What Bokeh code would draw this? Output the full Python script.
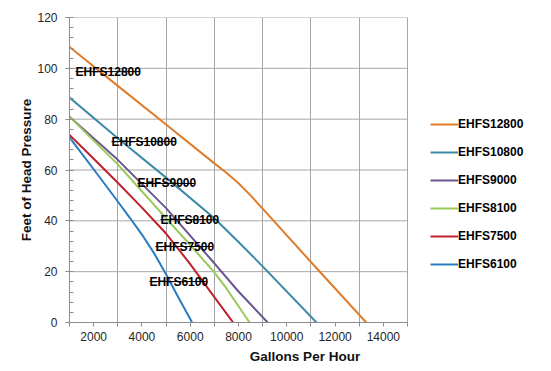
from bokeh.plotting import figure
from bokeh.models import (FixedTicker, Legend, LegendItem, LabelSet,
                          Range1d, ColumnDataSource)
from bokeh.core.properties import value
from bokeh.embed import file_html
from bokeh.resources import INLINE

# ---- data -------------------------------------------------------------
models = ["EHFS12800", "EHFS10800", "EHFS9000", "EHFS8100", "EHFS7500", "EHFS6100"]
colors = ["#E07B28", "#3A8AA6", "#6A5690", "#98C95A", "#C0202A", "#2A7BC0"]

gph_12800 = [1000, 3000, 5000, 7000, 7500, 8000, 8500, 9000, 11000, 13290]
head_12800 = [108.4, 93.1, 77.9, 62.6, 58.9, 54.8, 50.0, 44.8, 23.8, 0]

gph_10800 = [1000, 3000, 5000, 7000, 8000, 9000, 11230]
head_10800 = [88.5, 72.5, 57.0, 41.0, 31.7, 22.1, 0]

gph_9000 = [1000, 3000, 5000, 7000, 8000, 9210]
head_9000 = [81.0, 64.0, 45.0, 23.3, 12.2, 0]

gph_8100 = [1000, 3000, 5000, 6000, 7000, 7500, 8460]
head_8100 = [81.0, 62.2, 41.0, 30.5, 19.7, 13.4, 0]

gph_7500 = [1000, 2000, 3000, 4000, 5000, 6000, 7000, 7780]
head_7500 = [73.8, 64.4, 55.0, 45.2, 35.0, 23.0, 10.0, 0]

gph_6100 = [1000, 2000, 3000, 3500, 4000, 4500, 5000, 5500, 6080]
head_6100 = [72.8, 60.3, 47.6, 41.2, 34.6, 27.3, 19.0, 10.0, 0]

series_x = [gph_12800, gph_10800, gph_9000, gph_8100, gph_7500, gph_6100]
series_y = [head_12800, head_10800, head_9000, head_8100, head_7500, head_6100]

# in-plot label anchors (data units)
label_x = [1250, 2740, 3815, 4770, 4560, 4310]
label_y = [98.7, 71.2, 54.7, 40.5, 29.9, 16.1]

x_min, x_max = 1000, 15000
y_min, y_max = 0, 120
x_tick_labels = [2000, 4000, 6000, 8000, 10000, 12000, 14000]
x_grid_at = [1000, 3000, 5000, 7000, 9000, 11000, 13000, 15000]
y_ticks = [0, 20, 40, 60, 80, 100, 120]

# ---- layout: plot area is 338px wide; frame extends right to hold the legend
W, H = 545, 367
left_b, right_b, top_b, bottom_b = 69, 5, 17, 45
plot_w = 338
frame_w = W - left_b - right_b
x_end = x_min + (x_max - x_min) * frame_w / plot_w

p = figure(width=W, height=H, output_backend="svg", toolbar_location=None,
           x_range=Range1d(x_min, x_end), y_range=Range1d(y_min, y_max),
           min_border_left=left_b, min_border_right=right_b,
           min_border_top=top_b, min_border_bottom=bottom_b)
p.outline_line_color = None
p.background_fill_color = "white"
p.border_fill_color = "white"

grid_col = "#A6A6A6"
p.xaxis.ticker = FixedTicker(ticks=x_tick_labels, minor_ticks=x_grid_at)
p.xaxis.bounds = (x_min, x_max)
p.xgrid.ticker = FixedTicker(ticks=x_grid_at)
p.xgrid.grid_line_color = grid_col
p.ygrid.visible = False
p.segment(x0=[x_min] * len(y_ticks), x1=[x_max] * len(y_ticks),
          y0=y_ticks, y1=y_ticks, line_color=grid_col, line_width=1,
          level="underlay")
p.yaxis.ticker = FixedTicker(ticks=y_ticks, minor_ticks=list(range(0, 121, 4)))

for ax in (p.xaxis, p.yaxis):
    ax.axis_line_color = "#8C8C8C"
    ax.major_tick_line_color = "#8C8C8C"
    ax.minor_tick_line_color = "#8C8C8C"
    ax.major_label_text_font = "Liberation Sans"
    ax.major_label_text_font_size = "12px"
    ax.major_label_text_color = "#262626"
    ax.axis_label_text_font = "Liberation Sans"
    ax.axis_label_text_font_style = "bold"
    ax.axis_label_text_font_size = "13.5px"
    ax.axis_label_text_color = "#111111"

p.xaxis.major_tick_in = 0
p.xaxis.major_tick_out = 4
p.xaxis.minor_tick_in = 0
p.xaxis.minor_tick_out = 4
p.xaxis.major_label_standoff = 5
p.xaxis.axis_label = "Gallons Per Hour"
p.xaxis.axis_label_standoff = 5

p.yaxis.major_tick_in = 0
p.yaxis.major_tick_out = 4
p.yaxis.minor_tick_in = 4
p.yaxis.minor_tick_out = 0
p.yaxis.major_label_standoff = 8
p.yaxis.axis_label = "Feet of Head Pressure"
p.yaxis.axis_label_standoff = 0

items = []
for name, col, xs, ys in zip(models, colors, series_x, series_y):
    r = p.line(xs, ys, line_color=col, line_width=2)
    items.append(LegendItem(label=name, renderers=[r]))

# labels with strike-through line (as in the reference)
char_w = 7.1 * (x_max - x_min) / plot_w  # approx. data units per character
src = ColumnDataSource(dict(
    x=label_x, y=label_y, t=models,
    x1=[lx + len(m) * char_w for lx, m in zip(label_x, models)]))
p.segment(x0="x", y0="y", x1="x1", y1="y", source=src,
          line_color="black", line_width=1)
p.add_layout(LabelSet(x="x", y="y", text="t", source=src,
                      text_font=value("Liberation Sans"), text_font_style="bold",
                      text_font_size="12px", text_color="black",
                      text_baseline="middle", text_align="left"))

legend = Legend(items=items, location=(plot_w + 23, 48), orientation="vertical",
                padding=0, margin=0, spacing=8, glyph_width=28, glyph_height=20,
                label_height=20, label_standoff=0,
                label_text_font="Liberation Sans", label_text_font_style="bold",
                label_text_font_size="12px", label_text_color="black",
                border_line_color=None, background_fill_alpha=0)
p.add_layout(legend, "center")

open("out.html", "w").write(file_html(p, INLINE))
